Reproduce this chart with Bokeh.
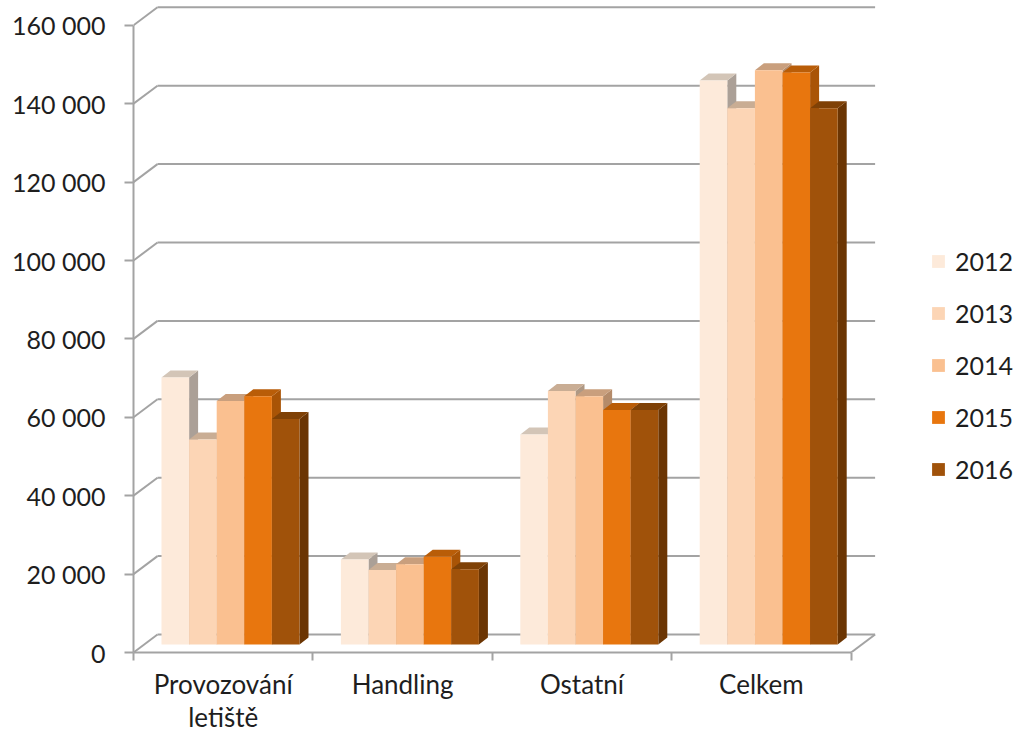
from bokeh.plotting import figure
from bokeh.models import Range1d, LinearAxis, FixedTicker, Legend, LegendItem
from bokeh.embed import file_html
from bokeh.resources import INLINE

# ---- data ----
categories = ["Provozování\nletiště", "Handling", "Ostatní", "Celkem"]
years = ["2012", "2013", "2014", "2015", "2016"]
y2012 = [68100, 21700, 53600, 143900]
y2013 = [52300, 19000, 64700, 136800]
y2014 = [62100, 20500, 63300, 146500]
y2015 = [63300, 22400, 59800, 145900]
y2016 = [57500, 19200, 59800, 136800]
series = [y2012, y2013, y2014, y2015, y2016]
y_ticks = [0, 20000, 40000, 60000, 80000, 100000, 120000, 140000, 160000]

# ---- styling ----
front_colors = ["#FDEADA", "#FCD5B5", "#FAC090", "#E8760E", "#A0520A"]
top_colors = ["#D3C5B7", "#C9AD94", "#C99F7D", "#B95D08", "#7F4106"]
side_colors = ["#ABA097", "#AE9884", "#B48B6A", "#A95406", "#6B3503"]
GRID = "#A3A3A3"
TEXT = "#1E1E1E"
FONT = "Lato"

W, H = 1018, 736
LEFT, BOTTOM = 133, 84
PX_PER_CAT = 179.4          # screen px per category slot
PX_PER_UNIT = 0.00392       # screen px per value unit

def dx(px):
    return px / PX_PER_CAT

def dy(px):
    return px / PX_PER_UNIT

frame_w = W - LEFT
frame_h = H - BOTTOM

p = figure(width=W, height=H,
           x_range=Range1d(0, frame_w / PX_PER_CAT),
           y_range=Range1d(0, frame_h / PX_PER_UNIT),
           x_axis_type=None, y_axis_type=None,
           output_backend="svg", toolbar_location=None,
           min_border_left=LEFT, min_border_right=0,
           min_border_top=0, min_border_bottom=BOTTOM)
p.outline_line_color = None
p.background_fill_color = "white"
p.border_fill_color = "white"

n_cat = len(categories)

# ---- walls: back-wall gridlines, left-wall diagonals, floor edge ----
WALL_DX, WALL_DY = dx(24), dy(18)
p.segment(x0=[WALL_DX] * len(y_ticks), y0=[v + WALL_DY for v in y_ticks],
          x1=[n_cat + WALL_DX] * len(y_ticks), y1=[v + WALL_DY for v in y_ticks],
          line_color=GRID, line_width=2)
p.segment(x0=[0] * len(y_ticks), y0=y_ticks,
          x1=[WALL_DX] * len(y_ticks), y1=[v + WALL_DY for v in y_ticks],
          line_color=GRID, line_width=2)
p.segment(x0=[n_cat], y0=[0], x1=[n_cat + WALL_DX], y1=[WALL_DY],
          line_color=GRID, line_width=2)

# ---- 3D bars ----
BAR_W = dx(27.6)
GROUP_OFF = dx(28)
BASE = dy(8)
BD_X, BD_Y = dx(9), dy(7)

legend_items = []
for j, (year, vals) in enumerate(zip(years, series)):
    lefts = [i + GROUP_OFF + j * BAR_W for i in range(n_cat)]
    rights = [l + BAR_W for l in lefts]
    tops = [BASE + v for v in vals]
    side_xs = [[r, r + BD_X, r + BD_X, r] for r in rights]
    side_ys = [[BASE, BASE + BD_Y, t + BD_Y, t] for t in tops]
    p.patches(side_xs, side_ys, fill_color=side_colors[j], line_color=None)
    top_xs = [[l, r, r + BD_X, l + BD_X] for l, r in zip(lefts, rights)]
    top_ys = [[t, t, t + BD_Y, t + BD_Y] for t in tops]
    p.patches(top_xs, top_ys, fill_color=top_colors[j], line_color=None)
    front = p.quad(left=lefts, right=rights, bottom=[BASE] * n_cat, top=tops,
                   fill_color=front_colors[j], line_color=None)
    legend_items.append(LegendItem(label=year, renderers=[front]))

# ---- axes ----
yaxis = LinearAxis(ticker=FixedTicker(ticks=y_ticks), bounds=(0, y_ticks[-1]),
                   major_label_overrides={t: f"{t:,}".replace(",", " ") for t in y_ticks})
yaxis.axis_line_color = GRID
yaxis.axis_line_width = 2
yaxis.major_tick_line_color = GRID
yaxis.major_tick_line_width = 2
yaxis.major_tick_out = 9
yaxis.major_tick_in = 0
yaxis.minor_tick_line_color = None
yaxis.major_label_standoff = 19
yaxis.major_label_text_font = FONT
yaxis.major_label_text_font_size = "25px"
yaxis.major_label_text_color = TEXT
p.add_layout(yaxis, "left")

centers = [i + 0.5 for i in range(n_cat)]
xaxis = LinearAxis(ticker=FixedTicker(ticks=centers, minor_ticks=list(range(n_cat + 1))),
                   bounds=(0, n_cat),
                   major_label_overrides={c: name for c, name in zip(centers, categories)})
xaxis.axis_line_color = GRID
xaxis.axis_line_width = 2
xaxis.major_tick_line_color = None
xaxis.major_tick_out = 8
xaxis.major_tick_in = 0
xaxis.minor_tick_line_color = GRID
xaxis.minor_tick_line_width = 2
xaxis.minor_tick_out = 8
xaxis.minor_tick_in = 0
xaxis.major_label_standoff = 7
xaxis.major_label_text_font = FONT
xaxis.major_label_text_font_size = "26px"
xaxis.major_label_text_line_height = 1.05
xaxis.major_label_text_color = TEXT
p.add_layout(xaxis, "below")

# ---- legend ----
legend = Legend(items=legend_items, location=(797, 168), orientation="vertical",
                glyph_width=16, glyph_height=16, label_height=30,
                label_standoff=9, spacing=22, padding=0, margin=0,
                border_line_color=None, background_fill_alpha=0,
                label_text_font=FONT, label_text_font_size="25px",
                label_text_color=TEXT)
p.add_layout(legend)

open("out.html", "w").write(file_html(p, INLINE))
